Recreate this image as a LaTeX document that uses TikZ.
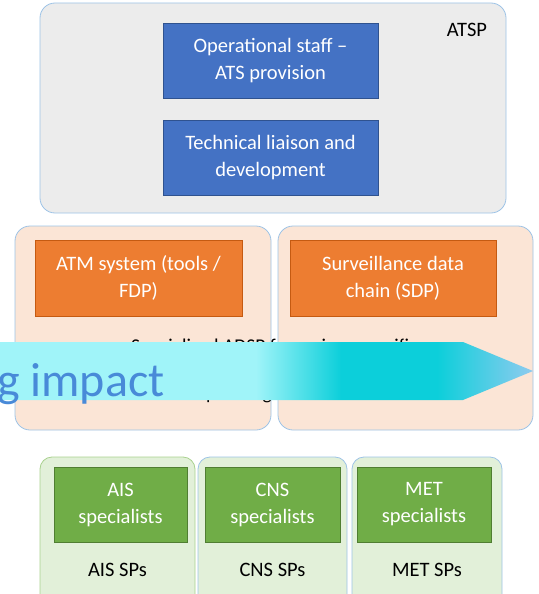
\documentclass[tikz,border=0pt]{standalone}
\usepackage{fontspec}
\setmainfont{Carlito}
\definecolor{greybg}{RGB}{236,236,236}
\definecolor{lblue}{RGB}{157,195,230}
\definecolor{bluefill}{RGB}{68,114,196}
\definecolor{blueedge}{RGB}{47,82,143}
\definecolor{peach}{RGB}{251,229,214}
\definecolor{orangefill}{RGB}{237,125,49}
\definecolor{orangeedge}{RGB}{197,90,17}
\definecolor{lgreen}{RGB}{226,240,217}
\definecolor{greenedge}{RGB}{169,209,142}
\definecolor{greenfill}{RGB}{112,173,71}
\definecolor{greendark}{RGB}{80,126,50}
\definecolor{acyanA}{RGB}{160,244,249}
\definecolor{acyanB}{RGB}{12,207,218}
\definecolor{acyanC}{RGB}{143,203,239}
\definecolor{impactblue}{RGB}{72,138,216}
\pgfdeclarehorizontalshading{arrowshade}{100bp}{color(0bp)=(acyanA); color(25bp)=(acyanA); color(49bp)=(acyanA); color(57bp)=(acyanB); color(66bp)=(acyanB); color(75bp)=(acyanC); color(100bp)=(acyanC)}
\begin{document}
\begin{tikzpicture}[x=1pt,y=-1pt,
  txt/.style={font=\fontsize{20.5}{27}\selectfont},
  outerbox/.style={draw=lblue, line width=0.8pt, rounded corners=15pt, inner sep=0pt},
  bluebox/.style={txt, draw=blueedge, fill=bluefill, text=white, line width=0.8pt, minimum width=215pt, minimum height=75pt, align=center, inner sep=0pt},
  orangebox/.style={txt, draw=orangeedge, fill=orangefill, text=white, line width=0.8pt, minimum height=76pt, align=center, inner sep=0pt},
  greenbox/.style={txt, draw=greendark, fill=greenfill, text=white, line width=0.8pt, minimum height=75pt, align=center, inner sep=0pt},
  plain/.style={txt, text=black, inner sep=0pt},
  hidden/.style={font=\fontsize{19.5}{24}\selectfont, text=black, inner sep=0pt}
]
\useasboundingbox (0,0) rectangle (538,594);
\begin{scope}
\clip (0,0) rectangle (538,594);
% top ATSP box
\node[outerbox, fill=greybg, minimum width=466pt, minimum height=210pt] (atsp) at (273,108) {};
\node[plain] (atsplbl) at (467,30) {ATSP};
\node[bluebox] (ops) at (270.5,60.5) {Operational staff –\\ATS provision};
\node[bluebox] (tech) at (270.5,157.5) {Technical liaison and\\development};
% middle boxes
\node[outerbox, fill=peach, minimum width=256pt, minimum height=204pt] (midl) at (143,328) {};
\node[outerbox, fill=peach, minimum width=255pt, minimum height=204pt] (midr) at (405.5,328) {};
\node[orangebox, minimum width=207pt] (atm) at (138.5,278) {ATM system (tools /\\FDP)};
\node[orangebox, minimum width=206pt] (sdp) at (393,278) {Surveillance data\\chain (SDP)};
\node[hidden, anchor=base west] (hid1) at (131,352) {Specialised ADSP for various specific};
\node[hidden, anchor=base east] (hid3) at (272,399) {operating};
% bottom boxes
\node[draw=greenedge, line width=0.8pt, rounded corners=12pt, fill=lgreen, minimum width=155pt, minimum height=150pt, inner sep=0pt] (aisbox) at (117.5,532) {};
\node[outerbox, rounded corners=12pt, fill=lgreen, minimum width=149pt, minimum height=150pt] (cnsbox) at (272.5,532) {};
\node[outerbox, rounded corners=12pt, fill=lgreen, minimum width=150pt, minimum height=150pt] (metbox) at (427,532) {};
\node[greenbox, minimum width=133pt] (ais) at (120.5,504.5) {AIS\\specialists};
\node[greenbox, minimum width=135pt] (cns) at (272.5,504.5) {CNS\\specialists};
\node[greenbox, minimum width=134pt] (met) at (424,504.5) {MET\\specialists};
\node[plain] (aislbl) at (117.5,570) {AIS SPs};
\node[plain] (cnslbl) at (272.5,570) {CNS SPs};
\node[plain] (metlbl) at (427,570) {MET SPs};
% arrow
\shade[shading=arrowshade] (0,342) -- (463,342) -- (533,371) -- (463,400) -- (0,400) -- cycle;
\node[anchor=base west, inner sep=0pt, text=impactblue, font=\fontsize{48}{56}\selectfont] (impact) at (-3,396) {g impact};
\end{scope}
\end{tikzpicture}
\end{document}
